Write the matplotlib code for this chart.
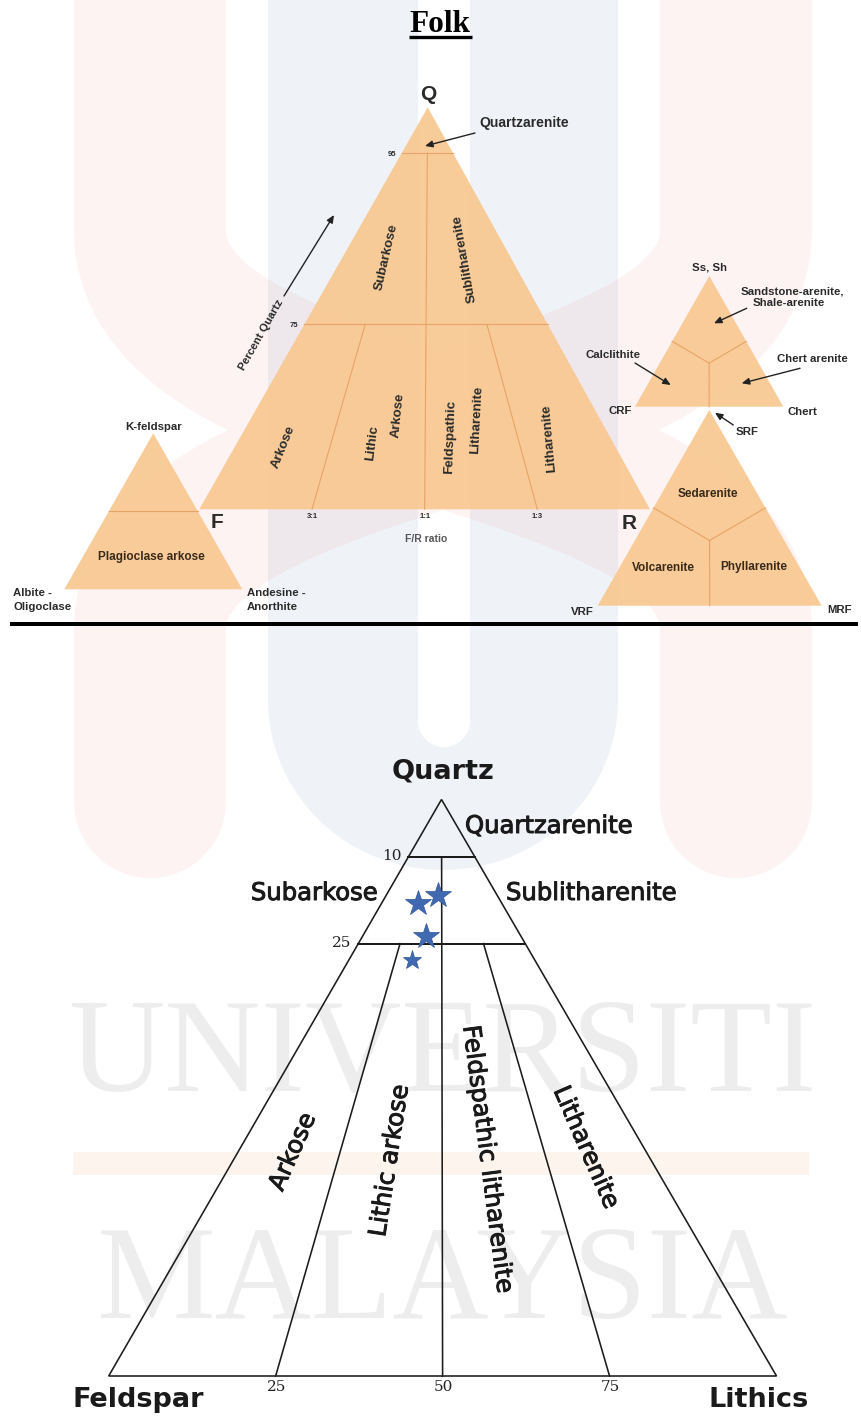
import numpy as np
import matplotlib
matplotlib.use("Agg")
import matplotlib.pyplot as plt
import matplotlib.patheffects as pe
from matplotlib.path import Path
from matplotlib.patches import PathPatch, Polygon, Rectangle

# ---------------------------------------------------------------- data
# Lower diagram: Folk (1980) QFL triangle with the studied samples
qfl_q_limits = [90, 75]                 # Q % of the class limits
qfl_q_limit_labels = ["10", "25"]       # printed as % non-quartz
qfl_fl_ratios = [25, 50, 75]            # L/(F+L) % of the ratio lines
qfl_base_labels = ["25", "50", "75"]
sample_Q = [82.0, 83.5, 76.3, 72.2]
sample_F = [12.6, 8.8, 14.2, 18.3]
sample_L = [5.4, 7.7, 9.5, 9.5]

# Upper diagram: Folk classification scheme
folk_q_limits = ["95", "75"]
folk_fr_labels = ["3:1", "1:1", "1:3"]
folk_fr_fraction = [25, 50, 75]         # R/(F+R) %

# ---------------------------------------------------------------- figure
fig = plt.figure(figsize=(8.61, 14.20), dpi=100)
ax = fig.add_axes([0, 0, 1, 1])
ax.set_xlim(0, 861)
ax.set_ylim(1420, 0)
ax.axis("off")
fig.patch.set_facecolor("white")

PX = 0.72  # points per pixel


def tri_pt(tri, depth, frac):
    """point in triangle (apex, left, right) at depth fraction from apex and
    lateral fraction from the left side"""
    A, B, C = (np.asarray(v, float) for v in tri)
    left = A + depth * (B - A)
    right = A + depth * (C - A)
    return left + frac * (right - left)


# ================================================================ watermark (behind)
th = np.linspace(np.pi, 0, 80)
outer = [(268, -20), (268, 700)] + list(zip(443 + 175 * np.cos(th), 700 + 170 * np.sin(th))) \
        + [(618, 700), (618, -20), (268, -20)]
th2 = np.linspace(0, np.pi, 40)
inner = [(418, -20), (470, -20), (470, 721)] + \
        list(zip(444 + 26 * np.cos(th2), 721 + 26 * np.sin(th2))) + [(418, 721), (418, -20)]
verts = outer + inner
codes = ([Path.MOVETO] + [Path.LINETO] * (len(outer) - 2) + [Path.CLOSEPOLY] +
         [Path.MOVETO] + [Path.LINETO] * (len(inner) - 2) + [Path.CLOSEPOLY])
ax.add_patch(PathPatch(Path(verts, codes), fc="#1f5fa0", ec="none", alpha=0.07, zorder=1))

arm_v = [(150, -120), (150, 230), (150, 440), (736, 420), (736, 630), (736, 802),
         (736, -120), (736, 230), (736, 440), (150, 420), (150, 630), (150, 802)]
arm_c = [Path.MOVETO, Path.LINETO, Path.CURVE4, Path.CURVE4, Path.CURVE4, Path.LINETO] * 2
ax.add_patch(PathPatch(Path(arm_v, arm_c), fill=False, ec="#e83030", lw=152 * PX,
                       alpha=0.055, capstyle="round", joinstyle="round", zorder=1))

ax.text(442, 1091, "UNIVERSITI", family="Liberation Serif", fontsize=96,
        color="#808080", alpha=0.14, ha="center", va="baseline", zorder=1)
ax.text(442, 1318, "MALAYSIA", family="Liberation Serif", fontsize=96,
        color="#808080", alpha=0.14, ha="center", va="baseline", zorder=1)
ax.add_patch(Rectangle((73, 1152), 736, 23, fc="#f08c1e", ec="none", alpha=0.08, zorder=1))

# ================================================================ TOP (Folk)
FILL = "#f8c891"
EDGE = "#e8a466"
TXT = "#2a2a2a"
SANS = "Liberation Sans"
FALPHA = 0.93


def tlabel(x, y, s, size=8.7, rot=0, ha="center", color=TXT, weight="bold"):
    ax.text(x, y, s, fontsize=size, fontweight=weight, family=SANS, color=color,
            ha=ha, va="center", rotation=rot, rotation_mode="anchor", zorder=5)


def arrow(p0, p1):
    ax.annotate("", xy=p1, xytext=p0,
                arrowprops=dict(arrowstyle="-|>,head_length=0.45,head_width=0.2",
                                color="#222222", lw=1.0, shrinkA=0, shrinkB=0),
                zorder=6)


ax.text(440, 32.5, "Folk", family="Liberation Serif", fontweight="bold",
        fontsize=22.5, ha="center", va="baseline", color="black", zorder=5)
ax.plot([409, 472], [37, 37], color="black", lw=2.4, solid_capstyle="butt", zorder=5)

# main QFR triangle
main = [(427.7, 107.3), (199.3, 509.3), (650.0, 509.3)]
ax.add_patch(Polygon(main, closed=True, fc=FILL, ec="none", alpha=FALPHA, zorder=2))
q_depth = [0.114, 0.54]                # drawn positions of the 95 and 75 limits
for d in q_depth:
    p0, p1 = tri_pt(main, d, 0), tri_pt(main, d, 1)
    ax.plot([p0[0], p1[0]], [p0[1], p1[1]], color=EDGE, lw=0.8, zorder=3)
for fr in folk_fr_fraction:
    d0 = q_depth[0] if fr == 50 else q_depth[1]
    p0, p1 = tri_pt(main, d0, fr / 100), tri_pt(main, 1.0, fr / 100)
    ax.plot([p0[0], p1[0]], [p0[1], p1[1]], color=EDGE, lw=0.8, zorder=3)
for lab, d in zip(folk_q_limits, q_depth):
    p = tri_pt(main, d, 0)
    tlabel(p[0] - 10, p[1] + 1.5, lab, size=5.5)
for lab, fr in zip(folk_fr_labels, folk_fr_fraction):
    p = tri_pt(main, 1.0, fr / 100)
    tlabel(p[0], p[1] + 7.5, lab, size=5.5)

tlabel(428, 94, "Q", size=15)
tlabel(217.5, 522.5, "F", size=15)
tlabel(628.8, 523.8, "R", size=15)
tlabel(524.5, 122.7, "Quartzarenite", size=10)
arrow((475, 133), (425, 146))
tlabel(261.7, 335, "Percent Quartz", size=8, rot=60.5)
arrow((284, 296), (334, 215))
tlabel(386.7, 256.7, "Subarkose", size=9.6, rot=77)
tlabel(465, 258.3, "Sublitharenite", size=9.6, rot=100)
tlabel(283.3, 446.7, "Arkose", size=9.6, rot=68)
tlabel(372.7, 443, "Lithic", size=9.6, rot=83)
tlabel(398.3, 415, "Arkose", size=9.6, rot=84)
tlabel(450, 436.7, "Feldspathic", size=9.6, rot=88)
tlabel(476.7, 420, "Litharenite", size=9.6, rot=87)
tlabel(549, 438.3, "Litharenite", size=9.6, rot=95)
tlabel(425.8, 538.8, "F/R ratio", size=7.5, color="#555555")

# feldspar triangle
kfs = [(153.3, 433.3), (64.3, 589.3), (242.3, 589.3)]
ax.add_patch(Polygon(kfs, closed=True, fc=FILL, ec="none", alpha=FALPHA, zorder=2))
p0, p1 = tri_pt(kfs, 0.5, 0), tri_pt(kfs, 0.5, 1)
ax.plot([p0[0], p1[0]], [p0[1], p1[1]], color=EDGE, lw=0.8, zorder=3)
tlabel(153.3, 426.7, "K-feldspar", size=8.2)
tlabel(151.7, 556.7, "Plagioclase arkose", size=8.5, color="#3a2a1a")
tlabel(13, 592.7, "Albite -", size=8.2, ha="left")
tlabel(13, 606.5, "Oligoclase", size=8.2, ha="left")
tlabel(246.7, 592.7, "Andesine -", size=8.2, ha="left")
tlabel(246.7, 606.5, "Anorthite", size=8.2, ha="left")


def three_field(tri):
    ax.add_patch(Polygon(tri, closed=True, fc=FILL, ec="none", alpha=FALPHA, zorder=2))
    c = tri_pt(tri, 2 / 3, 0.5)
    for d, f in [(0.5, 0.0), (0.5, 1.0), (1.0, 0.5)]:
        p = tri_pt(tri, d, f)
        ax.plot([c[0], p[0]], [c[1], p[1]], color=EDGE, lw=0.8, zorder=3)


# rock fragment triangles
ssh = [(709.3, 276.0), (635.0, 406.7), (783.3, 406.7)]
srf = [(709.3, 410.0), (597.7, 605.7), (821.7, 605.7)]
three_field(ssh)
three_field(srf)
tlabel(709.3, 267, "Ss, Sh", size=8.2)
tlabel(792, 291.5, "Sandstone-arenite,", size=8.2)
tlabel(788.5, 302.5, "Shale-arenite", size=8.2)
arrow((746.7, 308.3), (714, 323.3))
tlabel(613.3, 355, "Calclithite", size=8.2)
arrow((635, 363), (670.7, 385))
tlabel(812.3, 359.5, "Chert arenite", size=8.2)
arrow((800, 368.3), (741.7, 383.3))
tlabel(620, 410.5, "CRF", size=8.2)
tlabel(802.3, 412.3, "Chert", size=8.2)
tlabel(746.7, 432.3, "SRF", size=8.2)
arrow((733.3, 425), (715, 412.7))
tlabel(707.7, 494, "Sedarenite", size=8.5, color="#3a2a1a")
tlabel(663.3, 568.3, "Volcarenite", size=8.5, color="#3a2a1a")
tlabel(753.8, 566.7, "Phyllarenite", size=8.5, color="#3a2a1a")
tlabel(582.5, 612, "VRF", size=8.2)
tlabel(839.5, 610, "MRF", size=8.2)

# separator
ax.plot([10, 858], [623.7, 623.7], color="black", lw=4 * PX,
        solid_capstyle="butt", zorder=5)

# ================================================================ BOTTOM (QFL)
qfl = [(441.5, 799.5), (108.7, 1376.0), (776.5, 1376.0)]
LINE = "#1c1c1c"
BSANS = "DejaVu Sans"


def qfl_xy(q, f, l):
    return tri_pt(qfl, (100 - q) / 100, l / (f + l) if (f + l) else 0.5)


ax.add_patch(Polygon(qfl, closed=True, fill=False, ec=LINE, lw=1.6 * PX,
                     joinstyle="miter", zorder=4))
for q in qfl_q_limits:
    p0, p1 = qfl_xy(q, 100 - q, 0), qfl_xy(q, 0, 100 - q)
    ax.plot([p0[0], p1[0]], [p0[1], p1[1]], color=LINE, lw=2.0 * PX, zorder=4)
for r in qfl_fl_ratios:
    qtop = qfl_q_limits[0] if r == 50 else qfl_q_limits[1]
    p0 = qfl_xy(qtop, (100 - qtop) * (100 - r) / 100, (100 - qtop) * r / 100)
    p1 = qfl_xy(0, 100 - r, r)
    ax.plot([p0[0], p1[0]], [p0[1], p1[1]], color=LINE, lw=1.6 * PX, zorder=4)

for q, lab in zip(qfl_q_limits, qfl_q_limit_labels):
    p = qfl_xy(q, 100 - q, 0)
    ax.text(p[0] - 7, p[1] - 1, lab, family="DejaVu Serif", fontsize=11,
            ha="right", va="center", color="#222222", zorder=5)
for r, lab in zip(qfl_fl_ratios, qfl_base_labels):
    p = qfl_xy(0, 100 - r, r)
    ax.text(p[0] + 1, p[1] + 11, lab, family="DejaVu Serif", fontsize=11,
            ha="center", va="center", color="#222222", zorder=5)

HEAVY = [pe.withStroke(linewidth=0.7, foreground="#1a1a1a")]


def blabel(x, y, s, size=17, rot=0, ha="center", weight="normal", heavy=True):
    t = ax.text(x, y, s, fontsize=size, fontweight=weight, family=BSANS, color="#1a1a1a",
                ha=ha, va="center", rotation=rot, rotation_mode="anchor", zorder=5)
    if heavy:
        t.set_path_effects(HEAVY)


blabel(443, 772, "Quartz", size=19.5, weight="bold", heavy=False)
blabel(465, 826, "Quartzarenite", size=17.5, ha="left")
blabel(378, 893, "Subarkose", size=17.5, ha="right")
blabel(506, 893, "Sublitharenite", size=17.5, ha="left")
blabel(138, 1400, "Feldspar", size=19.5, weight="bold", heavy=False)
blabel(759, 1400, "Lithics", size=19.5, weight="bold", heavy=False)
blabel(292.7, 1151.7, "Arkose", size=17.5, rot=66)
blabel(389.6, 1160.7, "Lithic arkose", size=17.5, rot=81.3)
blabel(487.5, 1159, "Feldspathic litharenite", size=17.5, rot=-82.6)
blabel(586, 1147.3, "Litharenite", size=17.5, rot=-66.3)

# samples
star_ms = [19, 19, 19, 14]
for q, f, l, ms in zip(sample_Q, sample_F, sample_L, star_ms):
    x, y = qfl_xy(q, f, l)
    ax.plot(x, y, marker="*", ms=ms, color="#4169b1", mec="#2f5597", mew=0.5,
            ls="none", zorder=6)

fig.savefig("out.png", dpi=100, facecolor="white")
